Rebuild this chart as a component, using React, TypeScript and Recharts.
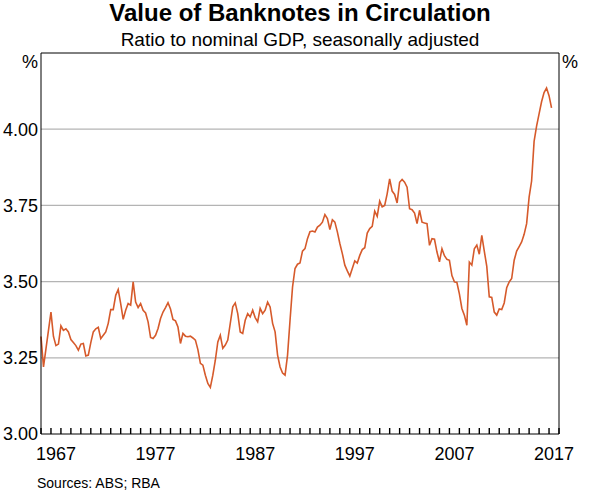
import { LineChart, Line, XAxis, YAxis, CartesianGrid, ReferenceLine } from "recharts";

// quarterly, starting March quarter 1966
const startYear = 1966;

const ratio1960s = [
  3.32, 3.22, 3.28, 3.34,
  3.4, 3.32, 3.29, 3.295,
  3.355, 3.34, 3.345, 3.335,
  3.31, 3.3, 3.29, 3.275,
];
const ratio1970s = [
  3.295, 3.297, 3.256, 3.259,
  3.3, 3.335, 3.345, 3.35,
  3.313, 3.324, 3.335, 3.363,
  3.408, 3.408, 3.455, 3.474,
  3.428, 3.376, 3.406, 3.428,
  3.423, 3.499, 3.433, 3.415,
  3.428, 3.406, 3.397, 3.368,
  3.317, 3.313, 3.324, 3.346,
  3.379, 3.4, 3.415, 3.431,
  3.41, 3.376, 3.371, 3.351,
];
const ratio1980s = [
  3.297, 3.33, 3.321, 3.319,
  3.321, 3.315, 3.308, 3.277,
  3.232, 3.226, 3.193, 3.166,
  3.153, 3.193, 3.242, 3.302,
  3.324, 3.281, 3.292, 3.308,
  3.363, 3.417, 3.43, 3.395,
  3.335, 3.33, 3.373, 3.395,
  3.384, 3.406, 3.382, 3.368,
  3.412, 3.395, 3.406, 3.433,
  3.417, 3.363, 3.335, 3.259,
];
const ratio1990s = [
  3.22, 3.2, 3.193, 3.259,
  3.373, 3.482, 3.543, 3.557,
  3.561, 3.6, 3.608, 3.641,
  3.664, 3.666, 3.663, 3.679,
  3.685, 3.695, 3.72, 3.707,
  3.671, 3.703, 3.695, 3.663,
  3.625, 3.592, 3.554, 3.535,
  3.518, 3.543, 3.568, 3.561,
  3.586, 3.605, 3.611, 3.659,
  3.674, 3.681, 3.731, 3.714,
];
const ratio2000s = [
  3.764, 3.745, 3.75, 3.788,
  3.837, 3.797, 3.786, 3.758,
  3.826, 3.835, 3.826, 3.81,
  3.739, 3.736, 3.725, 3.69,
  3.734, 3.695, 3.692, 3.69,
  3.619, 3.641, 3.639, 3.597,
  3.565, 3.608, 3.585, 3.573,
  3.57, 3.52, 3.499, 3.497,
  3.46, 3.412, 3.39, 3.357,
  3.564, 3.554, 3.608, 3.62,
];
const ratio2010s = [
  3.59, 3.652, 3.6, 3.55,
  3.45, 3.448, 3.4, 3.39,
  3.41, 3.408, 3.43, 3.48,
  3.499, 3.51, 3.57, 3.6,
  3.615, 3.63, 3.655, 3.69,
  3.777, 3.83, 3.96, 4.01,
  4.05, 4.09, 4.12, 4.135,
  4.11, 4.07,
];

const ratio = [...ratio1960s, ...ratio1970s, ...ratio1980s, ...ratio1990s, ...ratio2000s, ...ratio2010s];
const data = ratio.map((v, i) => ({ t: startYear + i / 4, ratio: v }));

const yTicks = [3, 3.25, 3.5, 3.75, 4];
const yearLabels = [1967, 1977, 1987, 1997, 2007, 2017];
const xDomain = [1966, 2018];
const yDomain = [3, 4.25];
const yearMarks = Array.from({ length: xDomain[1] - xDomain[0] + 1 }, (_, i) => xDomain[0] + i);

const font = "'Liberation Sans', Arial, sans-serif";
const lineColour = "#d65a2b";

// y is the axis line here (tickSize and tickMargin are 0); marks point up into the plot
function YearTick(props: any) {
  const { x, y, payload } = props;
  const showLabel = yearLabels.includes(payload.value);
  return (
    <g>
      <path d={`M${x},${y}V${y - 6}`} stroke="#000" strokeWidth={1.4} fill="none" />
      {showLabel && (
        <text x={x + 5} y={y + 26} textAnchor="middle" fontSize={18} fontFamily={font} fill="#000">
          {payload.value}
        </text>
      )}
    </g>
  );
}

export default function App() {
  return (
    <div style={{ position: "absolute", left: 0, top: 0, width: 600, height: 492, background: "#fff" }}>
      <LineChart width={600} height={492} data={data} margin={{ top: 53, right: 0, bottom: 28, left: 0 }}>
        <CartesianGrid vertical={false} horizontalValues={[3.25, 3.5, 3.75, 4]} stroke="#b4b4b4" strokeWidth={1.3} yAxisId="left" />
        <YAxis
          yAxisId="left"
          domain={yDomain}
          ticks={yTicks}
          interval={0}
          width={41}
          stroke="#000"
          tickLine={false}
          tickSize={0}
          tickMargin={3}
          tickFormatter={(v: number) => v.toFixed(2)}
          tick={{ fontSize: 18, fontFamily: font, fill: "#000" }}
        />
        <YAxis
          yAxisId="right"
          orientation="right"
          domain={yDomain}
          ticks={yTicks}
          interval={0}
          width={41}
          stroke="#000"
          tickLine={false}
          tickSize={0}
          tickMargin={3}
          tickFormatter={(v: number) => v.toFixed(2)}
          tick={{ fontSize: 18, fontFamily: font, fill: "#000" }}
        />
        <ReferenceLine yAxisId="left" y={4.25} stroke="#000" />
        <Line
          yAxisId="left"
          dataKey="ratio"
          type="linear"
          stroke={lineColour}
          strokeWidth={1.6}
          dot={false}
          isAnimationActive={false}
        />
        <XAxis
          dataKey="t"
          type="number"
          domain={xDomain}
          ticks={yearMarks}
          interval={0}
          height={30}
          stroke="#000"
          tickSize={0}
          tickMargin={0}
          tickLine={false}
          tick={YearTick}
        />
      </LineChart>
      <svg width={600} height={492} style={{ position: "absolute", left: 0, top: 0, pointerEvents: "none" }}>
        <text x={300} y={21} textAnchor="middle" fontSize={24} fontWeight="bold" fontFamily={font}>
          Value of Banknotes in Circulation
        </text>
        <text x={300} y={46} textAnchor="middle" fontSize={19} fontFamily={font}>
          Ratio to nominal GDP, seasonally adjusted
        </text>
        <text x={38} y={68} textAnchor="end" fontSize={18} fontFamily={font}>%</text>
        <text x={562} y={68} textAnchor="start" fontSize={18} fontFamily={font}>%</text>
        <text x={37} y={488} fontSize={14} fontFamily={font}>Sources: ABS; RBA</text>
      </svg>
    </div>
  );
}
